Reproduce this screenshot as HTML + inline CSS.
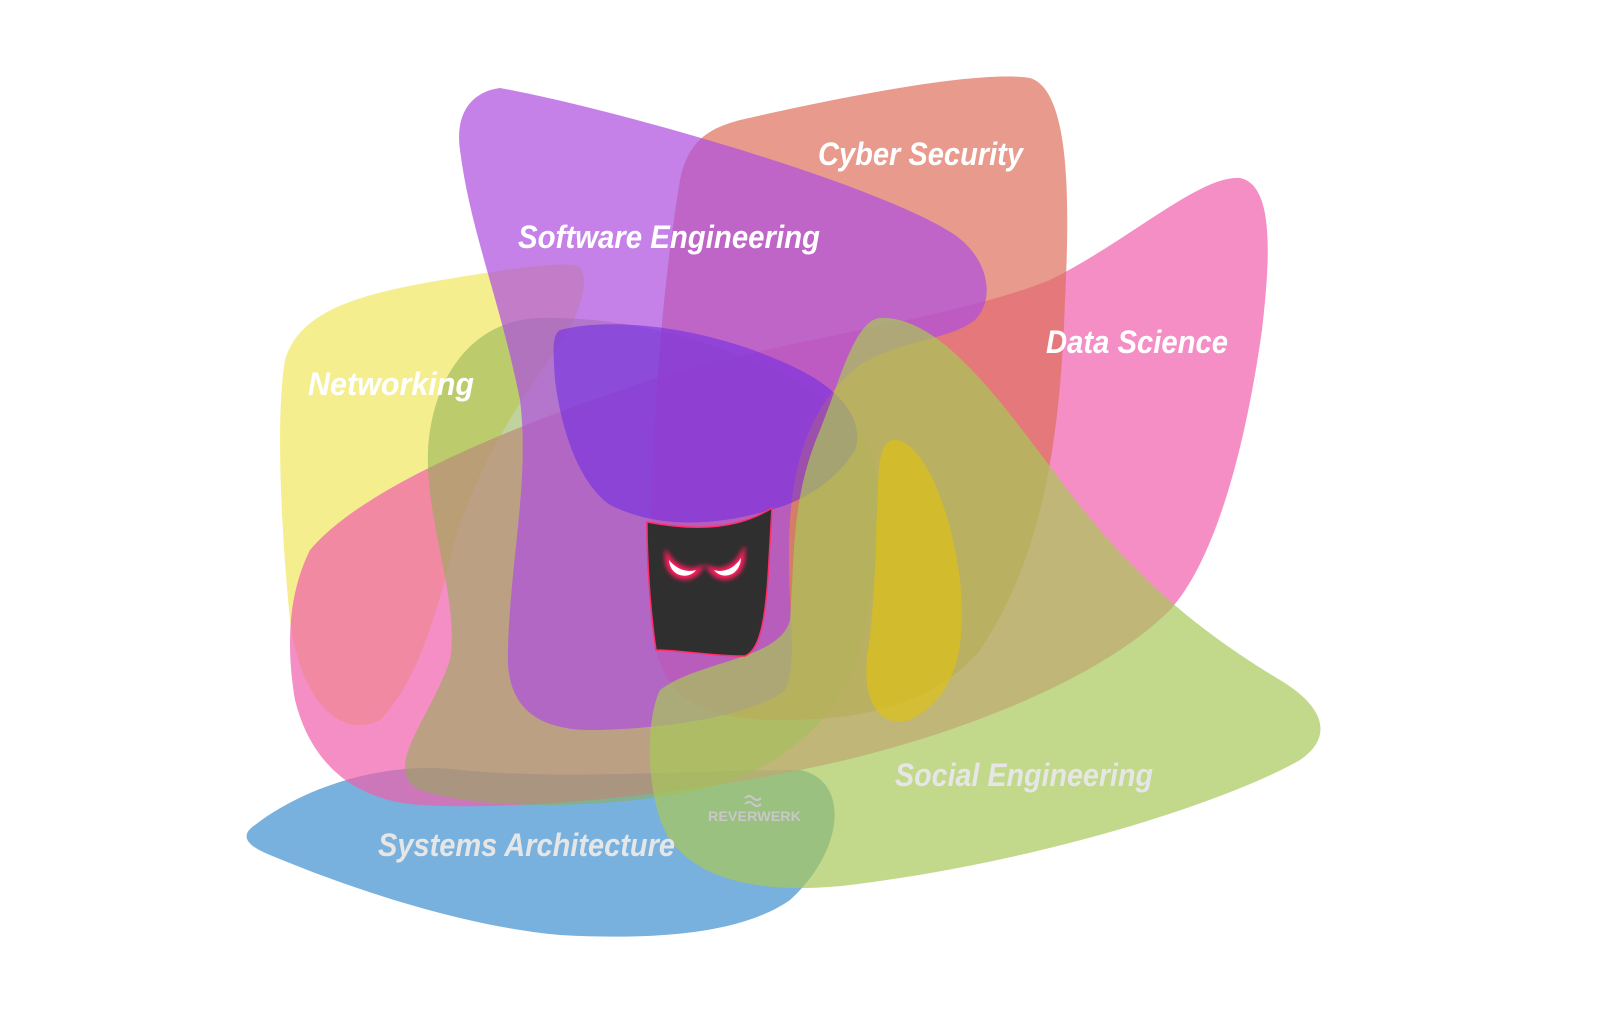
<!DOCTYPE html>
<html><head><meta charset="utf-8"><style>
html,body{margin:0;padding:0;background:#fff;}
svg{display:block;}
text{font-family:"Liberation Sans",sans-serif;font-style:italic;font-weight:bold;}
</style></head><body>
<svg width="1600" height="1030" viewBox="0 0 1600 1030" xmlns="http://www.w3.org/2000/svg">
<defs>
<filter id="glow" x="-50%" y="-50%" width="200%" height="200%"><feGaussianBlur stdDeviation="2.5"/></filter>
</defs>
<g>
<path d="M255,825 C300,790 380,760 460,770 C560,780 700,770 800,770 C850,780 845,850 790,900 C740,935 650,940 560,935 C450,925 330,880 270,855 C245,845 240,835 255,825 Z" fill="rgb(62,144,206)" fill-opacity="0.7"/>
<path d="M575,265 C595,270 578,320 560,345 C520,400 480,460 455,540 C440,600 420,680 380,720 C340,740 300,700 290,620 C282,540 275,420 285,360 C300,310 360,295 430,282 C490,272 550,262 575,265 Z" fill="rgb(241,231,96)" fill-opacity="0.7"/>
<path d="M1240,178 C1275,185 1270,260 1262,330 C1245,450 1215,560 1170,610 C1100,680 950,740 800,770 C650,800 500,810 420,805 C350,800 310,760 295,700 C285,640 290,590 310,550 C360,490 500,430 650,380 C800,335 950,320 1050,280 C1130,240 1200,175 1240,178 Z" fill="rgb(239,94,171)" fill-opacity="0.7"/>
<path d="M540,318 C640,316 760,350 840,410 C900,460 880,560 860,650 C840,720 780,770 700,790 C600,810 480,810 420,790 C380,770 430,720 450,660 C460,600 425,520 428,450 C432,380 470,320 540,318 Z" fill="rgb(140,175,80)" fill-opacity="0.55"/>
<path d="M740,120 C850,95 980,70 1030,78 C1070,90 1070,200 1065,300 C1060,450 1040,560 980,650 C930,710 850,720 780,720 C700,720 650,700 650,600 C650,450 660,300 680,180 C688,140 710,128 740,120 Z" fill="rgb(222,111,91)" fill-opacity="0.7"/>
<path d="M500,88 C470,92 455,115 460,150 C470,230 500,300 520,400 C530,480 510,560 508,650 C505,710 540,732 600,730 C680,728 760,712 785,690 C800,660 785,600 790,520 C795,450 815,400 860,365 C900,340 950,340 975,320 C995,300 990,260 955,235 C880,185 620,110 500,88 Z" fill="rgb(175,80,222)" fill-opacity="0.72"/>
<path d="M560,330 C620,315 720,330 800,370 C840,390 865,420 855,450 C830,490 790,505 770,510 C720,525 660,530 610,505 C575,480 560,420 555,380 C553,350 552,335 560,330 Z" fill="rgb(110,40,230)" fill-opacity="0.55"/>
<path d="M880,318 C940,315 1000,400 1060,480 C1120,560 1180,620 1280,680 C1330,710 1330,740 1300,760 C1230,800 1050,860 850,885 C760,895 700,880 670,840 C645,800 645,720 660,690 C700,660 780,660 790,620 C795,560 790,500 820,430 C840,380 855,320 880,318 Z" fill="rgb(168,199,88)" fill-opacity="0.7"/>
<path d="M895,440 C920,440 950,500 960,580 C968,660 950,700 910,720 C880,730 860,700 868,650 C878,580 875,500 880,460 C883,445 888,440 895,440 Z" fill="rgb(230,196,0)" fill-opacity="0.55"/>
</g>
<path d="M647,522 C700,532 740,528 772,508 L769,560 C766,620 760,650 745,656 C710,656 680,650 656,650 C650,610 647,560 647,522 Z" fill="#2f2f2f" stroke="#ff2d6a" stroke-width="1.5"/>
<g filter="url(#glow)">
<path d="M668,558 C668,578 690,582 698,570 C688,573 675,568 668,558 Z" fill="#ff1d5c" stroke="#ff1d5c" stroke-width="6"/>
<path d="M742,556 C742,578 720,582 712,570 C722,573 735,568 742,556 Z" fill="#ff1d5c" stroke="#ff1d5c" stroke-width="6"/>
</g>
<path d="M669,560 C670,577 689,580 696,570 C687,573 676,569 669,560 Z" fill="#fff"/>
<path d="M741,558 C740,577 721,580 714,570 C723,573 734,569 741,558 Z" fill="#fff"/>
<text x="818" y="165" font-size="32" fill="#fff" textLength="205" lengthAdjust="spacingAndGlyphs">Cyber Security</text>
<text x="518" y="248" font-size="32" fill="#fff" textLength="302" lengthAdjust="spacingAndGlyphs">Software Engineering</text>
<text x="1046" y="353" font-size="32" fill="#fff" textLength="182" lengthAdjust="spacingAndGlyphs">Data Science</text>
<text x="308" y="395" font-size="32" fill="#fff" textLength="166" lengthAdjust="spacingAndGlyphs">Networking</text>
<text x="895" y="786" font-size="32" fill="#e6e6e6" textLength="258" lengthAdjust="spacingAndGlyphs">Social Engineering</text>
<text x="378" y="856" font-size="32" fill="#e6e6e6" textLength="297" lengthAdjust="spacingAndGlyphs">Systems Architecture</text>
<path d="M745,798 q4,-4 8,0 t8,0 M745,804 q4,-4 8,0 t8,0" fill="none" stroke="#c8c8c8" stroke-width="2"/>
<text x="708" y="821" font-size="14" fill="#c8c8c8" style="font-style:normal" textLength="93" lengthAdjust="spacingAndGlyphs">REVERWERK</text>
</svg>
</body></html>
